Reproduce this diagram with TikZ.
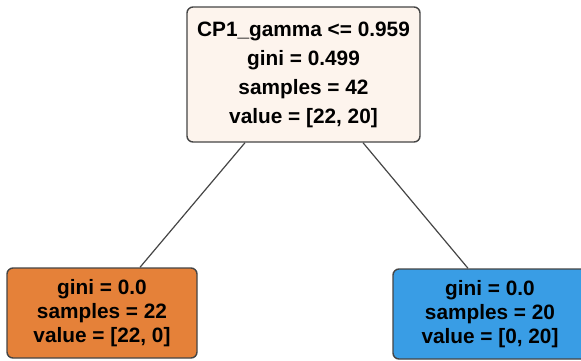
\documentclass[tikz,border=0pt]{standalone}
\usepackage{fontspec}
\setmainfont{Liberation Sans}
\usetikzlibrary{calc}
\definecolor{rootfill}{HTML}{FDF4ED}
\definecolor{orangefill}{HTML}{E58139}
\definecolor{bluefill}{HTML}{399DE5}
\definecolor{edgegray}{HTML}{454545}
\tikzset{
  treebox/.style={draw=edgegray, line width=1.4pt, rounded corners=6pt, align=center, inner sep=0pt},
  rootbox/.style={treebox, fill=rootfill, minimum width=233pt, minimum height=135pt,
    font=\fontsize{20.8}{29}\selectfont\bfseries},
  leafbox/.style={treebox, minimum width=190pt, minimum height=90pt,
    font=\fontsize{20.8}{24}\selectfont\bfseries},
  treeedge/.style={draw=edgegray, line width=1.2pt}
}
\begin{document}
\begin{tikzpicture}[x=1pt,y=1pt]
\useasboundingbox (0,0) rectangle (581,-360);
\node[rootbox] (root) at (303.5,-74.5) {CP1\_gamma <= 0.959\\gini = 0.499\\samples = 42\\value = [22, 20]};
\node[leafbox, fill=orangefill] (left) at (102,-313) {gini = 0.0\\samples = 22\\value = [22, 0]};
\node[leafbox, fill=bluefill, minimum width=194pt] (right) at (490,-314) {gini = 0.0\\samples = 20\\value = [0, 20]};
\draw[treeedge] ($(root.south)+(-58.5,0)$) -- ($(left.north)+(38,0)$);
\draw[treeedge] ($(root.south)+(59.5,0)$) -- ($(right.north)+(-22,0)$);
\end{tikzpicture}
\end{document}
